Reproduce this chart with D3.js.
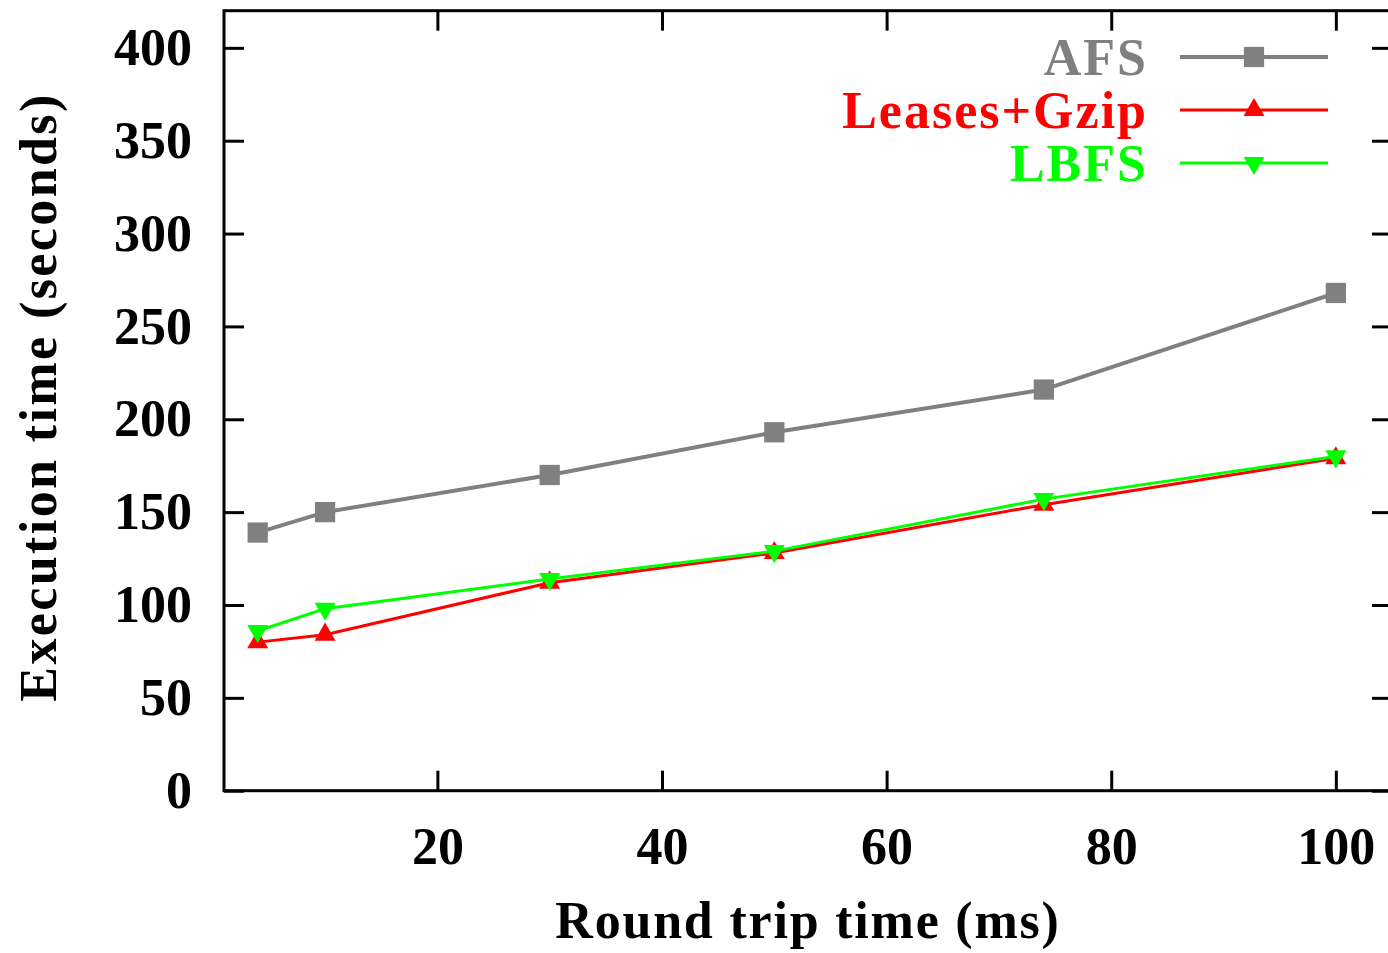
<!DOCTYPE html>
<html>
<head>
<meta charset="utf-8">
<script src="https://cdn.jsdelivr.net/npm/d3@7"></script>
<style>
  body { margin: 0; background: #fff; }
  svg { display: block; }
  text { font-family: "Liberation Serif", "Times New Roman", serif; font-weight: bold; }
</style>
</head>
<body>
<svg id="chart"></svg>
<script>
// round trip times (ms)
const rtt = [4, 10, 30, 50, 74, 100];
// execution times (seconds)
const afs = [139, 150, 170, 193, 216, 268];
const leasesGzip = [80, 84, 112, 128, 154, 179];
const lbfs = [86, 98, 114, 129, 157, 180];

const seriesNames = ["AFS", "Leases+Gzip", "LBFS"];
const xTicks = [20, 40, 60, 80, 100];
const yTicks = [0, 50, 100, 150, 200, 250, 300, 350, 400];

const W = 1388, H = 953;
const margin = { top: 10.7, left: 224, right: -4, bottom: 162.3 };
const fs = 52;

const svg = d3.select("#chart").attr("width", W).attr("height", H);

const x = d3.scaleLinear().domain([1, 105]).range([margin.left, W - margin.right]);
const y = d3.scaleLinear().domain([0, 420]).range([H - margin.bottom, margin.top]);

//series setup
const series = [
    { name: seriesNames[0], values: afs, color: "#808080", width: 4, symbol: "square" },
    { name: seriesNames[1], values: leasesGzip, color: "#ff0000", width: 3, symbol: "up" },
    { name: seriesNames[2], values: lbfs, color: "#00ff00", width: 3, symbol: "down" }
];

function marker(sel, s) {
    if (s.symbol === "square") {
        sel.attr("d", d3.symbol().type(d3.symbolSquare).size(410)());
    } else {
        sel.attr("d", d3.symbol().type(d3.symbolTriangle).size(190)());
    }
}

// axes: inward ticks, all four sides
const gLeft = svg.append("g")
    .attr("transform", `translate(${margin.left},0)`)
    .call(d3.axisLeft(y).tickValues(yTicks).tickSize(-20).tickPadding(32));
const gBottom = svg.append("g")
    .attr("transform", `translate(0,${H - margin.bottom})`)
    .call(d3.axisBottom(x).tickValues(xTicks).tickSize(-20).tickPadding(36));
const gRight = svg.append("g")
    .attr("transform", `translate(${W - margin.right},0)`)
    .call(d3.axisRight(y).tickValues(yTicks).tickSize(-20).tickFormat(""));
const gTop = svg.append("g")
    .attr("transform", `translate(0,${margin.top})`)
    .call(d3.axisTop(x).tickValues(xTicks).tickSize(-20).tickFormat(""));

[gLeft, gBottom, gRight, gTop].forEach(g => {
    g.select(".domain").remove();
    g.selectAll(".tick line").attr("stroke", "#000").attr("stroke-width", 3);
    g.selectAll(".tick text")
        .attr("fill", "#000")
        .style("font-size", fs + "px");
});

// frame
svg.append("rect")
    .attr("x", margin.left)
    .attr("y", margin.top)
    .attr("width", W - margin.right - margin.left)
    .attr("height", H - margin.bottom - margin.top)
    .attr("fill", "none")
    .attr("stroke", "#000")
    .attr("stroke-width", 3);

// lines + markers
const line = d3.line().x((d, i) => x(rtt[i])).y(d => y(d));

series.forEach(s => {
    svg.append("path")
        .attr("d", line(s.values))
        .attr("fill", "none")
        .attr("stroke", s.color)
        .attr("stroke-width", s.width);

    svg.selectAll(null)
        .data(s.values)
        .enter()
        .append("path")
        .call(marker, s)
        .attr("fill", s.color)
        .attr("transform", (d, i) => `translate(${x(rtt[i])},${y(d)})` + (s.symbol === "down" ? " rotate(180)" : ""));
});

// legend
const legY = [57, 110, 163];
series.forEach((s, i) => {
    const ly = legY[i];
    svg.append("text")
        .attr("x", 1148)
        .attr("y", ly + 18)
        .attr("text-anchor", "end")
        .attr("fill", s.color)
        .style("font-size", fs + "px")
        .style("letter-spacing", "2px")
        .text(s.name);
    svg.append("line")
        .attr("x1", 1180).attr("x2", 1328)
        .attr("y1", ly).attr("y2", ly)
        .attr("stroke", s.color)
        .attr("stroke-width", s.width);
    svg.append("path")
        .call(marker, s)
        .attr("fill", s.color)
        .attr("transform", `translate(1254,${ly})` + (s.symbol === "down" ? " rotate(180)" : ""));
});

// axis titles
svg.append("text")
    .attr("x", 808)
    .attr("y", 938)
    .attr("text-anchor", "middle")
    .attr("fill", "#000")
    .style("font-size", fs + "px")
    .style("letter-spacing", "1.8px")
    .text("Round trip time (ms)");

svg.append("text")
    .attr("transform", "translate(56,397) rotate(-90)")
    .attr("text-anchor", "middle")
    .attr("fill", "#000")
    .style("font-size", fs + "px")
    .style("letter-spacing", "2.4px")
    .text("Execution time (seconds)");
</script>
</body>
</html>
